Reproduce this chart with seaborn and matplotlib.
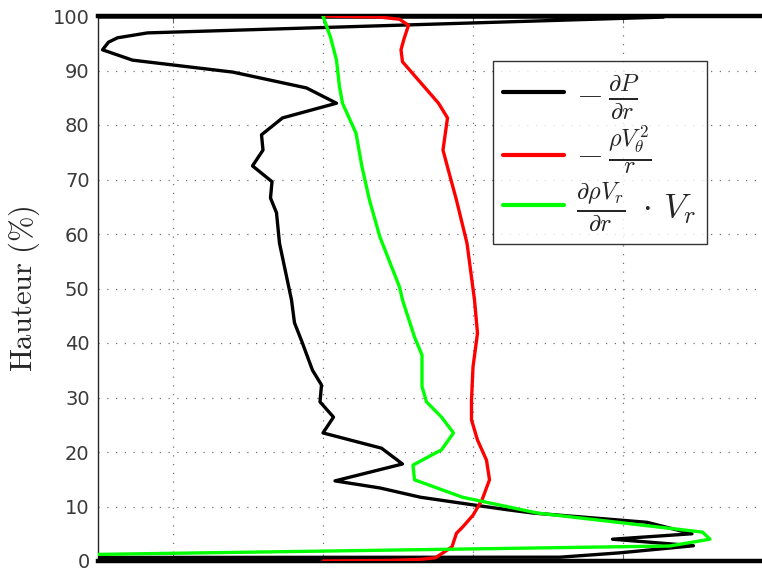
import matplotlib
matplotlib.use('Agg')
import matplotlib.pyplot as plt
import seaborn as sns

# hauteur (%) / valeur du terme
y_pres = [0, 0.7, 1.5, 2.8, 4.0, 5.0, 7.1, 8.8, 9.4, 10.3, 11.7, 13.4, 14.7,
          17.8, 20.7, 23.5, 26.4, 29.2, 32.3, 35.0, 40.2, 43.7, 47.9, 49.2,
          58.3, 63.9, 66.6, 69.6, 72.5, 75.4, 78.2, 81.3, 84.0, 86.8, 89.7,
          91.9, 93.8, 95.2, 96.0, 96.9, 99.8, 100]
x_pres = [-40, 1.58, 1.98, 2.47, 1.93, 2.46, 2.16, 1.4, 1.23, 1.0, 0.65, 0.38,
          0.08, 0.53, 0.39, 0.0, 0.07, -0.02, -0.01, -0.07, -0.14, -0.19,
          -0.21, -0.22, -0.29, -0.31, -0.35, -0.34, -0.47, -0.4, -0.41, -0.27,
          0.09, -0.11, -0.6, -1.27, -1.47, -1.43, -1.37, -1.17, 2.27, -40]

y_cent = [0, 0.1, 0.3, 0.6, 1.5, 2.6, 5.1, 6.2, 8.4, 11.2, 14.9, 18.5, 22.2,
          25.9, 29.5, 35.6, 41.8, 47.9, 58.3, 66.2, 72.3, 75.4, 81.3, 84.0,
          91.6, 93.8, 95.8, 98.3, 99.4, 99.8, 100]
x_cent = [0, 0.45, 0.65, 0.75, 0.8, 0.86, 0.89, 0.93, 1.0, 1.06, 1.11, 1.09,
          1.03, 0.99, 0.99, 1.0, 1.03, 1.01, 0.96, 0.89, 0.83, 0.8, 0.83, 0.77,
          0.53, 0.52, 0.54, 0.57, 0.51, 0.38, 0.0]

y_conv = [0, 2.75, 4.0, 5.3, 8.8, 11.7, 14.9, 17.6, 20.4, 23.5, 26.4, 29.2,
          32.0, 37.8, 41.1, 47.9, 50.3, 59.4, 66.2, 72.3, 78.5, 84.0, 87.0,
          91.9, 96.1, 100]
x_conv = [-4.5, 2.31, 2.58, 2.53, 1.43, 0.93, 0.61, 0.6, 0.79, 0.87, 0.79,
          0.69, 0.66, 0.66, 0.61, 0.53, 0.51, 0.38, 0.31, 0.26, 0.22, 0.13,
          0.11, 0.09, 0.05, 0.0]

labels = [r'$-\,\frac{\partial P}{\partial r}$',
          r'$-\,\frac{\rho V_\theta^{\,2}}{r}$',
          r'$\frac{\partial \rho V_r}{\partial r}\;\cdot\, V_r$']
colors = ['black', '#ff0000', '#00ff00']
yticks = list(range(0, 101, 10))
xgrid = [-1, 0, 1, 2]

sns.set_style('white')
plt.rcParams['font.family'] = ['DejaVu Sans']
plt.rcParams['mathtext.fontset'] = 'cm'

fig = plt.figure(figsize=(7.62, 5.72), dpi=100)
ax = fig.add_axes([98 / 762, 11 / 572, 675 / 762, 545 / 572])

for xs, ys, c, lab in zip([x_pres, x_cent, x_conv], [y_pres, y_cent, y_conv],
                          colors, labels):
    sns.lineplot(x=xs, y=ys, sort=False, estimator=None, color=c, lw=2.4,
                 label=lab, ax=ax, zorder=3)

ax.set_xlim(-1.5, 3.0)
ax.set_ylim(0, 100)
ax.set_yticks(yticks)
ax.set_xticks(xgrid)
ax.set_xticklabels([])
ax.grid(True, color='0.45', linestyle=(0, (1, 6)), linewidth=0.9)
ax.tick_params(axis='y', direction='in', length=5, width=0.8, color='0.3',
               labelsize=14, labelcolor='#3a3a3a', pad=6)
ax.tick_params(axis='x', direction='in', length=5, width=0.8, color='0.4',
               top=True, bottom=True)

for side in ['top', 'bottom']:
    ax.spines[side].set_linewidth(3.2)
    ax.spines[side].set_color('black')
ax.spines['left'].set_linewidth(1.0)
ax.spines['right'].set_visible(False)

ax.set_ylabel(r'$\mathrm{Hauteur\ (\%)}$', fontsize=22, labelpad=8)

leg = ax.legend(loc='upper left', bbox_to_anchor=(0.585, 0.917), fontsize=25,
                frameon=True, fancybox=False, edgecolor='black',
                handlelength=1.75, handletextpad=0.35, borderpad=0.3,
                labelspacing=0.1, borderaxespad=0)
leg.get_frame().set_linewidth(1.0)
for line in leg.get_lines():
    line.set_linewidth(3.0)

fig.savefig('out.png', dpi=100)
